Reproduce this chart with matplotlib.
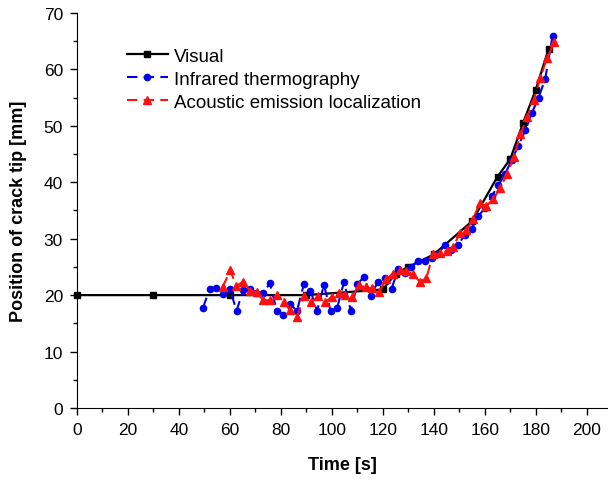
import matplotlib.pyplot as plt
from matplotlib.ticker import MultipleLocator

plt.rcParams["font.family"] = ["Liberation Sans", "DejaVu Sans"]

# Visual observation
visual_t = [0, 30, 60, 90, 120, 125, 130, 140, 155, 165, 170, 175, 180, 185]
visual_y = [20.0, 20.0, 20.0, 20.0, 21.0, 23.8, 25.0, 27.2, 33.1, 41.0, 44.1, 50.5, 56.4, 63.6]

# Infrared thermography
ir_t = [49.5, 52.0, 54.7, 57.4, 60.0, 62.6, 65.2, 67.8, 70.4, 73.0, 75.7, 78.4,
        81.0, 83.7, 86.3, 89.0, 91.6, 94.2, 96.9, 99.5, 102.1, 104.8, 107.4,
        110.0, 112.6, 115.3, 118.0, 120.7, 123.4, 126.0, 128.6, 131.2, 133.8,
        136.5, 139.1, 141.7, 144.3, 146.9, 149.5, 152.2, 154.8, 157.5, 160.1,
        162.7, 165.3, 168.0, 170.6, 173.2, 175.9, 178.5, 181.1, 183.7, 186.6]
ir_y = [17.8, 21.1, 21.2, 20.2, 21.1, 17.2, 20.9, 21.1, 20.4, 20.4, 22.1, 17.2,
        16.5, 18.4, 17.2, 21.9, 20.8, 17.2, 21.8, 17.2, 17.8, 22.4, 17.2,
        22.0, 23.2, 19.9, 22.3, 23.0, 21.1, 24.6, 24.0, 25.0, 26.1,
        26.1, 26.5, 27.3, 28.9, 28.0, 28.9, 30.7, 31.8, 34.0, 35.5,
        37.5, 39.5, 41.5, 44.0, 46.5, 49.2, 52.3, 55.0, 58.3, 66.0]

# Acoustic emission localization
ae_t = [57.2, 60.2, 62.5, 65.2, 67.8, 70.5, 73.1, 75.8, 78.5, 81.1, 83.7, 86.4,
        89.1, 91.8, 94.6, 97.3, 100.0, 102.7, 105.3, 108.0, 110.6, 113.2, 115.8,
        118.6, 121.3, 124.0, 126.6, 129.2, 131.8, 134.5, 137.1, 139.7, 142.4,
        145.0, 147.6, 150.2, 152.8, 155.4, 158.0, 160.6, 163.3, 166.0, 168.8,
        171.4, 174.0, 176.6, 179.2, 181.8, 184.4, 187.3]
ae_y = [21.5, 24.4, 21.6, 22.4, 20.8, 20.5, 19.1, 19.1, 20.1, 18.7, 17.3, 16.2,
        19.9, 18.7, 19.8, 18.7, 19.7, 20.4, 20.0, 19.6, 21.8, 21.4, 21.2,
        20.6, 22.8, 23.8, 24.4, 24.3, 23.7, 22.4, 23.0, 27.3, 27.4,
        27.8, 28.5, 31.0, 31.5, 33.5, 36.3, 35.8, 37.0, 39.0, 41.5,
        44.5, 48.5, 51.5, 54.5, 58.5, 62.0, 64.8]

fig = plt.figure(figsize=(6.08, 4.81), dpi=100)
ax = fig.add_axes([0.1266, 0.1497, 0.872, 0.8213])

ax.plot(visual_t, visual_y, color="black", lw=1.6, marker="s", ms=3.8,
        label="Visual", clip_on=False, zorder=3)
ax.plot(ir_t, ir_y, color="#0000ee", lw=1.5, ls=(0, (5, 3)), marker="o", ms=4.5,
        label="Infrared thermography", zorder=4)
ax.plot(ae_t, ae_y, color="#ff1010", lw=1.5, ls=(0, (5, 3)), marker="^", ms=5.5,
        label="Acoustic emission localization", zorder=5)

ax.set_xlim(0, 208)
ax.set_ylim(0, 70)
ax.xaxis.set_major_locator(MultipleLocator(20))
ax.xaxis.set_minor_locator(MultipleLocator(10))
ax.yaxis.set_major_locator(MultipleLocator(10))
ax.yaxis.set_minor_locator(MultipleLocator(5))
ax.tick_params(which="major", direction="out", length=5, width=1, labelsize=12.5, pad=5)
ax.tick_params(which="minor", direction="out", length=3, width=1)
for side in ("top", "right"):
    ax.spines[side].set_visible(False)

ax.set_xlabel("Time [s]", fontsize=13, fontweight="bold", labelpad=14)
ax.set_ylabel("Position of crack tip [mm]", fontsize=13, fontweight="bold", labelpad=12)

ax.legend(loc="upper left", bbox_to_anchor=(0.062, 0.955), frameon=False,
          fontsize=13.5, handlelength=2.2, handletextpad=0.3, labelspacing=0.32)

plt.savefig("out.png", dpi=100)
plt.close()
